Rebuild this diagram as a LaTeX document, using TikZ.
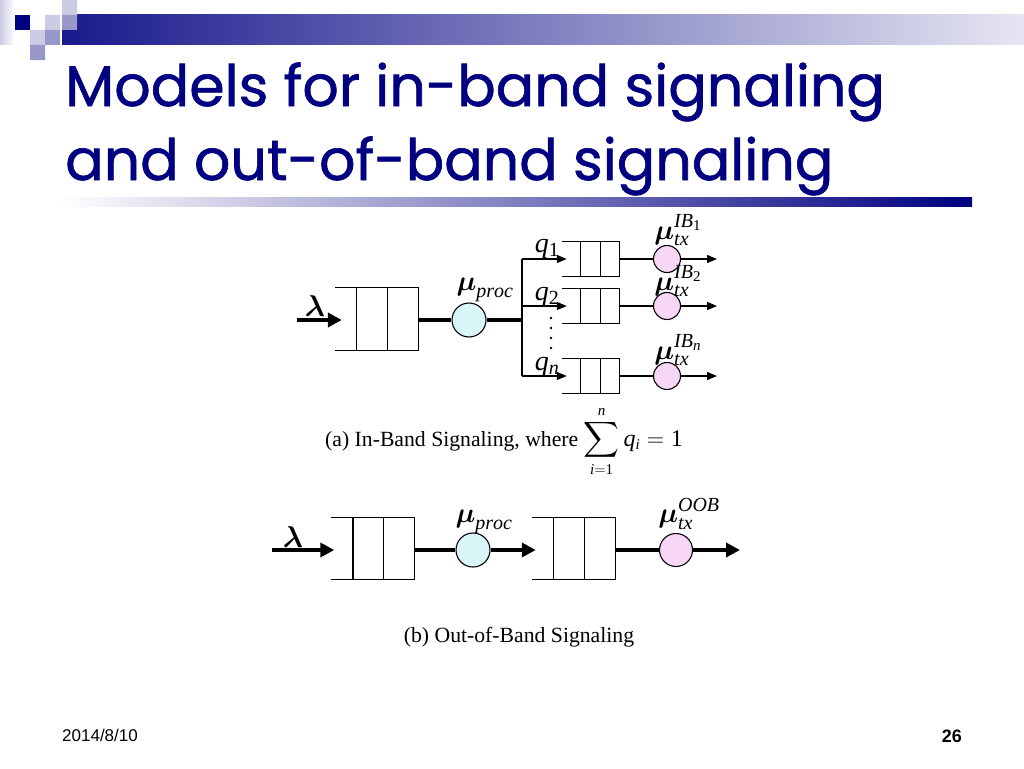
\RequirePackage{fix-cm}
\documentclass[tikz,border=0pt]{standalone}
\usepackage{amsmath}
\usepackage{fontspec}
\setmainfont{Liberation Serif}
\newfontfamily\titlefont[FakeBold=1.1]{Poppins}
\newfontfamily\footfont{Liberation Sans}
\usetikzlibrary{arrows.meta,calc}
\DeclareMathSizes{28}{28}{20}{15}
\DeclareMathSizes{24}{24}{15}{12}

\definecolor{navy}{RGB}{0,0,128}
\definecolor{sqlight}{RGB}{204,204,228}
\definecolor{sqmid}{RGB}{152,152,200}
\definecolor{procfill}{RGB}{218,246,248}
\definecolor{txfill}{RGB}{248,214,246}

\tikzset{
  bigqueue/.style={rectangle,inner sep=0,minimum width=83pt,minimum height=62pt},
  smallqueue/.style={rectangle,inner sep=0,minimum width=57pt,minimum height=34pt},
  server/.style={circle,draw,line width=1.1pt,inner sep=0,minimum size=#1},
  procsrv/.style={server=34pt,fill=procfill},
  txsrv/.style={server=#1,fill=txfill},
  thinline/.style={line width=1.3pt},
  thickline/.style={line width=3.6pt},
  thinarrow/.style={thinline,-{Triangle[length=10pt,width=8pt]}},
  thickarrow/.style={thickline,-{Triangle[length=14pt,width=14pt]}},
  mathlbl/.style={font=\fontsize{28}{30}\selectfont,inner sep=0},
  lamlbl/.style={font=\fontsize{30}{32}\selectfont,inner sep=0},
  captext/.style={font=\fontsize{21.7}{24}\selectfont,inner sep=0},
  titletext/.style={font=\titlefont\fontsize{57}{60}\selectfont,text=navy,inner sep=0},
}

\begin{document}
\begin{tikzpicture}[x=1pt,y=-1pt]
  \useasboundingbox (0,0) rectangle (1024,768);
  \fill[white] (0,0) rectangle (1024,768);

  % slide decoration
  \shade[left color=sqlight,right color=white] (0,0) rectangle (15,45);
  \shade[left color=navy!90,right color=navy!10] (62,15) rectangle (1024,45);
  \fill[navy] (15,15) rectangle (30,30);
  \fill[sqlight] (62,0) rectangle (77,15) (45,15) rectangle (60,30) (30,30) rectangle (45,45);
  \fill[sqmid] (62,15) rectangle (77,30) (45,30) rectangle (60,45) (30,45) rectangle (45,60);
  \shade[left color=white,right color=navy] (60,197) rectangle (972,206);

  % title
  \node[titletext,anchor=base west] (title1) at (65,106) {Models for in-band signaling};
  \node[titletext,anchor=base west] (title2) at (65,180) {and out-of-band signaling};

  % (a) in-band
  \coordinate (inA) at (297,320);
  \node[bigqueue] (qinA) at (376.5,319) {};
  \node[procsrv] (procA) at (469,320) {};
  \coordinate (fork) at (522,320);
  \node[smallqueue] (qb1) at (590.5,259) {};
  \node[smallqueue] (qb2) at (590.5,306) {};
  \node[smallqueue] (qbn) at (590.5,376) {};
  \node[txsrv=27pt] (tx1) at (667,259) {};
  \node[txsrv=27pt] (tx2) at (667,306) {};
  \node[txsrv=27pt] (txn) at (667,376) {};
  \coordinate (out1) at (717,259);
  \coordinate (out2) at (717,306);
  \coordinate (outn) at (717,376);

  \draw[thickarrow] (inA) -- ([xshift=7pt]qinA.west |- inA);
  \draw[thickline] (qinA.east |- procA) -- (procA.west);
  \draw[thickline] (procA.east) -- (fork);
  \draw[thinline] (fork |- qb1) -- (fork |- qbn);
  \foreach \b in {1,2,n} {
    \draw[thinarrow] (fork |- qb\b) -- ([xshift=5pt]qb\b.west);
    \draw[thinline] (qb\b.east) -- (tx\b.west);
    \draw[thinarrow] (tx\b.east) -- (out\b);
  }
  \foreach \y in {318,328,338,348}
    \fill (551,\y) circle (1.3);

  \node[lamlbl] (lamA) at (315,306) {$\boldsymbol{\lambda}$};
  \node[mathlbl] (muprocA) at (485,290) {$\boldsymbol{\mu}_{\mathit{proc}}$};
  \node[mathlbl] (lq1) at (547,249) {$\mathit{q}_{\mathrm{1}}$};
  \node[mathlbl] (lq2) at (547,297) {$\mathit{q}_{\mathrm{2}}$};
  \node[mathlbl] (lqn) at (547,367) {$\mathit{q}_{\mathit{n}}$};
  \node[mathlbl] (mutx1) at (678,230) {$\boldsymbol{\mu}_{\mathit{tx}}^{\mathit{IB}_{\mathrm{1}}}$};
  \node[mathlbl] (mutx2) at (678,281) {$\boldsymbol{\mu}_{\mathit{tx}}^{\mathit{IB}_{\mathrm{2}}}$};
  \node[mathlbl] (mutxn) at (678,350) {$\boldsymbol{\mu}_{\mathit{tx}}^{\mathit{IB}_{\mathit{n}}}$};

  \node[captext,anchor=base west] (capA) at (325,446)
    {(a) In-Band Signaling, where {\fontsize{24}{26}\selectfont$\displaystyle\sum_{\mathit{i}=\mathrm{1}}^{\mathit{n}}\mathit{q}_{\mathit{i}} = \mathrm{1}$}};

  % (b) out-of-band
  \coordinate (inB) at (272,550);
  \node[bigqueue] (qinB) at (373,548.5) {};
  \node[procsrv] (procB) at (473,550) {};
  \node[bigqueue] (qmidB) at (573.5,548.5) {};
  \node[txsrv=33pt] (txB) at (676,550) {};
  \coordinate (outB) at (740,550);

  \draw[thickarrow] (inB) -- ([xshift=3pt]qinB.west |- inB);
  \draw[thickline] (qinB.east |- procB) -- (procB.west);
  \draw[thickarrow] (procB.east) -- ([xshift=4pt]qmidB.west |- procB);
  \draw[thickline] (qmidB.east |- txB) -- (txB.west);
  \draw[thickarrow] (txB.east) -- (outB);

  \node[lamlbl] (lamB) at (293,537) {$\boldsymbol{\lambda}$};
  \node[mathlbl] (muprocB) at (484,522) {$\boldsymbol{\mu}_{\mathit{proc}}$};
  \node[mathlbl] (mutxB) at (689,514) {$\boldsymbol{\mu}_{\mathit{tx}}^{\mathit{OOB}}$};

  \node[captext] (capB) at (519,637) {(b) Out-of-Band Signaling};

  % queue outlines
  \foreach \q in {qinA,qinB,qmidB} {
    \draw[line width=1.2pt] (\q.north west) -- (\q.north east) -- (\q.south east) -- (\q.south west);
    \draw[line width=1.2pt]
      ($(\q.north west)!0.26!(\q.north east)$) -- ($(\q.south west)!0.26!(\q.south east)$)
      ($(\q.north west)!0.63!(\q.north east)$) -- ($(\q.south west)!0.63!(\q.south east)$);
  }
  \foreach \q in {qb1,qb2,qbn} {
    \draw[line width=1.2pt] (\q.north west) -- (\q.north east) -- (\q.south east) -- (\q.south west);
    \draw[line width=1.2pt]
      ($(\q.north west)!0.33!(\q.north east)$) -- ($(\q.south west)!0.33!(\q.south east)$)
      ($(\q.north west)!0.67!(\q.north east)$) -- ($(\q.south west)!0.67!(\q.south east)$);
  }

  % footer
  \node[font=\footfont\fontsize{17}{20}\selectfont,anchor=base west,inner sep=0] (date) at (62,741) {2014/8/10};
  \node[font=\footfont\bfseries\fontsize{18}{20}\selectfont,anchor=base east,inner sep=0] (page) at (962,742) {26};
\end{tikzpicture}
\end{document}
